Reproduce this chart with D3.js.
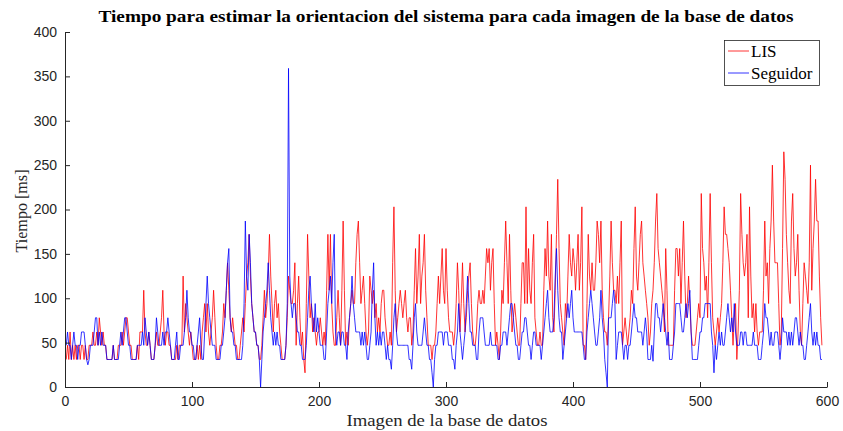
<!DOCTYPE html>
<html><head><meta charset="utf-8">
<script src="https://cdn.jsdelivr.net/npm/d3@7"></script>
<style>body{margin:0;background:#fff}svg{display:block}</style>
</head><body>
<script>
const titleText = "Tiempo para estimar la orientacion del sistema para cada imagen de la base de datos";
const xLabel = "Imagen de la base de datos";
const yLabel = "Tiempo [ms]";
const seriesNames = ["LIS", "Seguidor"];
const xTicks = [0,100,200,300,400,500,600];
const yTicks = [0,50,100,150,200,250,300,350,400];

const lis = [
31,47,31,62,31,47,31,47,31,47, 47,31,47,47,31,47,31,31,47,47, 47,62,47,47,62,47,78,62,47,62, 47,47,31,31,31,31,31,47,31,31, 31,47,47,47,62,47,62,78,78,62, 47,47,31,31,31,31,47,31,62,62,
62,109,62,47,47,62,47,31,31,31, 47,62,47,47,62,78,109,62,47,62, 62,47,47,31,31,31,31,47,31,47, 47,47,125,62,94,78,62,47,62,47, 31,31,31,47,31,47,31,62,78,94, 62,94,62,47,62,78,109,78,47,31,
31,47,47,62,94,78,109,140,109,78, 62,78,62,47,47,31,31,47,62,78, 62,94,125,140,172,125,94,78,62,62, 47,47,31,31,47,78,109,78,94,125, 172,125,94,62,94,109,78,94,62,47, 31,31,31,47,78,125,109,94,94,109,
140,47,94,125,78,47,62,31,16,94, 172,125,78,94,62,78,62,47,62,62, 78,62,47,62,47,109,172,109,172,94, 62,47,47,78,109,78,47,109,187,109, 47,62,47,78,94,109,94,94,140,172, 187,140,94,109,125,94,62,47,62,125,
109,94,109,78,94,62,78,62,94,109, 109,78,62,47,47,62,47,140,203,109, 62,78,94,109,94,78,94,109,78,62, 78,78,47,62,109,156,94,125,172,94, 125,140,172,109,78,47,47,47,31,47, 47,62,94,125,94,125,156,109,94,156,
109,78,62,62,62,47,62,94,140,109, 62,94,140,94,62,78,109,125,140,94, 62,47,47,62,94,109,94,94,109,94, 125,156,140,156,109,140,156,94,47,62, 47,31,62,109,94,140,187,140,94,172, 109,62,78,94,78,62,47,47,94,140,
140,94,203,94,156,109,94,140,172,78, 62,47,47,62,47,47,109,156,125,187, 125,109,172,78,62,109,172,234,156,94, 78,62,47,94,78,125,172,140,125,156, 140,109,140,172,109,140,203,47,47,31, 94,172,125,109,140,109,109,140,187,172,
140,187,109,78,62,62,47,78,125,187, 140,109,109,94,125,94,140,187,47,62, 78,62,47,62,78,109,94,156,203,125, 109,140,172,187,140,125,109,94,78,47, 62,94,109,140,187,218,156,140,125,109, 94,62,156,109,47,47,47,47,47,109,
156,156,125,156,94,140,187,125,78,94, 125,94,62,47,47,47,62,78,94,78, 218,156,140,109,125,78,140,218,140,78, 62,47,62,78,62,78,94,140,203,172, 172,156,140,109,78,47,78,94,31,62, 109,218,172,140,125,140,172,78,203,125,
78,94,62,94,62,47,62,62,62,109, 187,125,140,94,156,187,250,187,140,140, 140,94,47,62,156,265,234,172,140,109, 94,187,218,156,125,140,172,109,62,47, 94,140,125,109,94,140,250,109,156,187, 234,187,187,125,78,47
];

const seguidor = [
47,62,47,47,31,47,62,47,47,31, 47,47,62,62,62,47,31,25,31,47, 47,47,62,78,78,47,62,47,62,47, 47,47,31,31,31,31,31,47,31,31, 31,31,47,62,47,62,78,78,62,47, 47,31,31,31,31,31,47,47,47,47,
62,47,78,62,47,62,47,31,31,31, 47,78,62,47,47,47,62,47,62,62, 78,62,47,31,31,31,47,62,31,31, 47,47,47,62,78,109,78,62,62,47, 47,31,31,47,62,78,47,31,31,62, 94,125,94,78,62,47,47,47,31,31,
31,31,47,47,62,78,109,140,156,78, 62,62,47,47,31,31,31,31,31,47, 94,187,125,109,172,140,94,78,62,62, 47,47,31,0,31,62,78,94,109,140, 109,78,62,47,62,47,62,47,47,31, 31,31,31,47,94,359,125,94,78,94,
94,78,62,62,47,47,31,31,31,47, 78,109,125,94,78,62,94,62,78,62, 47,47,47,31,31,62,94,109,125,94, 140,172,62,47,62,62,47,62,62,47, 47,31,62,78,94,125,94,78,62,62, 62,62,47,62,47,62,47,31,31,47,
62,109,140,78,47,62,47,62,47,62, 62,47,31,47,31,31,20,47,78,94, 62,47,47,47,47,47,47,47,47,47, 31,31,20,47,78,94,62,47,47,47, 47,62,78,62,47,47,31,31,16,0, 31,47,47,62,62,62,62,47,62,62,
62,47,47,47,31,31,20,47,62,94, 62,47,31,47,62,94,125,94,62,62, 47,47,47,31,31,62,78,78,78,62, 47,47,47,47,62,47,47,47,47,47, 31,31,47,47,62,62,62,47,62,78, 94,94,78,62,47,47,31,31,47,62,
62,78,78,62,47,47,31,47,62,62, 47,47,47,47,31,47,62,78,94,109, 78,62,62,62,78,125,156,109,78,62, 62,31,47,62,78,94,78,94,109,78, 62,62,62,62,62,62,62,47,31,31, 62,78,94,109,94,78,62,47,47,62,
78,109,78,62,31,16,0,78,78,78, 94,109,94,31,47,62,62,62,47,31, 47,47,31,47,47,62,78,94,78,78, 62,62,62,62,47,62,78,62,31,31, 31,47,29,62,94,94,78,78,62,78, 94,78,62,47,62,31,31,31,47,62,
94,94,94,94,78,62,62,78,94,78, 94,109,62,31,31,31,31,31,47,62, 62,78,78,94,94,94,94,94,62,47, 16,47,31,47,62,47,62,47,47,62, 78,94,78,62,78,62,94,62,47,47, 47,62,62,47,62,62,47,47,47,47,
47,62,47,47,47,31,31,31,47,62, 94,78,78,62,47,62,47,47,62,62, 62,47,31,47,78,62,62,62,47,62, 47,62,47,62,78,78,62,47,62,47, 47,31,31,47,62,78,94,62,47,62, 47,62,47,47,31,31
];

const W = 843, H = 431;
const m = {left: 65, right: 843-827, top: 32, bottom: 431-387};
const svg = d3.select("body").append("svg").attr("width", W).attr("height", H);

const x = d3.scaleLinear().domain([0, 600]).range([m.left, W - m.right]);
const y = d3.scaleLinear().domain([0, 400]).range([H - m.bottom, m.top]);

const axisColor = "#262626";
const tickFont = "'Liberation Sans', Arial, sans-serif";
const serif = "'Liberation Serif', 'Times New Roman', serif";

// lines
const line = d3.line().x((d, i) => x(i + 1)).y(d => y(d));
svg.append("path").datum(lis).attr("d", line).attr("fill", "none")
  .attr("stroke", "#ff0000").attr("stroke-width", 0.8).attr("stroke-linejoin", "round");
svg.append("path").datum(seguidor).attr("d", line).attr("fill", "none")
  .attr("stroke", "#0000ff").attr("stroke-width", 0.8).attr("stroke-linejoin", "round");

// axes
const xAxis = d3.axisBottom(x).tickValues(xTicks).tickSizeInner(-5).tickSizeOuter(0).tickPadding(9);
const yAxis = d3.axisLeft(y).tickValues(yTicks).tickSizeInner(-5).tickSizeOuter(0).tickPadding(8);
const gx = svg.append("g").attr("transform", `translate(0,${H - m.bottom})`).call(xAxis);
const gy = svg.append("g").attr("transform", `translate(${m.left},0)`).call(yAxis);
[gx, gy].forEach(g => {
  g.select(".domain").attr("stroke", axisColor).attr("stroke-width", 1);
  g.selectAll(".tick line").attr("stroke", axisColor).attr("stroke-width", 1);
  g.selectAll(".tick text").attr("fill", axisColor).style("font-family", tickFont).style("font-size", "14px");
});

// title
svg.append("text").attr("x", 446).attr("y", 22).attr("text-anchor", "middle")
  .attr("textLength", 695).attr("lengthAdjust", "spacingAndGlyphs")
  .style("font-family", serif).style("font-weight", "bold").style("font-size", "17px")
  .attr("fill", "#000").text(titleText);

// axis labels
svg.append("text").attr("x", 447).attr("y", 426).attr("text-anchor", "middle")
  .attr("textLength", 201).attr("lengthAdjust", "spacingAndGlyphs")
  .style("font-family", serif).style("font-size", "17px").attr("fill", axisColor).text(xLabel);
svg.append("text").attr("transform", "translate(27,211) rotate(-90)").attr("text-anchor", "middle")
  .attr("textLength", 83).attr("lengthAdjust", "spacingAndGlyphs")
  .style("font-family", serif).style("font-size", "17px").attr("fill", axisColor).text(yLabel);

// legend
const lg = svg.append("g");
lg.append("rect").attr("x", 724.5).attr("y", 40.5).attr("width", 95).attr("height", 45)
  .attr("fill", "#fff").attr("stroke", "#262626").attr("stroke-width", 0.8);
const colors = ["#ff0000", "#0000ff"];
seriesNames.forEach((n, i) => {
  const yy = 51 + i * 22;
  lg.append("line").attr("x1", 728).attr("x2", 749).attr("y1", yy).attr("y2", yy)
    .attr("stroke", colors[i]).attr("stroke-width", 0.8);
  lg.append("text").attr("x", 751).attr("y", yy + 6)
    .style("font-family", serif).style("font-size", "17px").attr("fill", "#000").text(n);
});
</script>
</body></html>
